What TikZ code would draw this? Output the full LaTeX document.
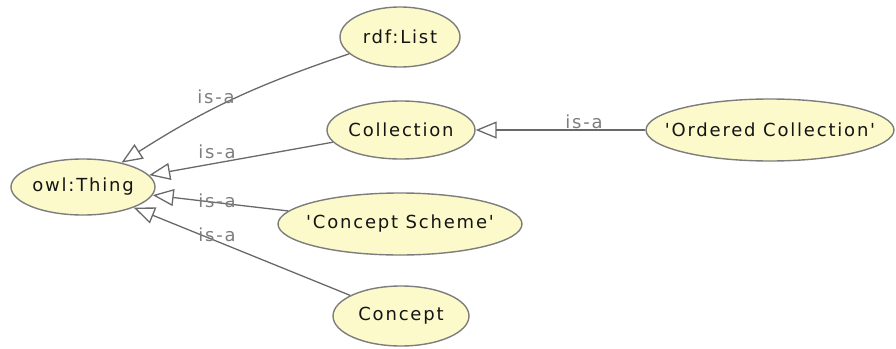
\documentclass[tikz,border=0pt]{standalone}
\usepackage{fontspec}
\newfontfamily\diagfont{DejaVu Sans}[LetterSpace=10]
\usetikzlibrary{shapes.geometric,arrows.meta}
\definecolor{clsfill}{RGB}{252,250,202}
\definecolor{clsborder}{RGB}{125,125,125}
\definecolor{edgeline}{RGB}{105,105,105}
\definecolor{edgetext}{RGB}{125,125,125}
\definecolor{clstext}{RGB}{20,20,20}
% zero-width text so that the ellipse size comes from the minimum sizes only
\newcommand{\clsname}[1]{\makebox[0pt]{#1}}
\begin{document}
\begin{tikzpicture}[x=1pt,y=-1pt,
  font=\diagfont\fontsize{18}{21}\selectfont,
  cls/.style={ellipse, draw=clsborder, line width=1.4pt, fill=clsfill,
    text=clstext, inner sep=0pt},
  isa/.style={draw=edgeline, line width=1.3pt,
    -{Triangle[open, length=21pt, width=17pt, line width=1.3pt]}},
  isalabel/.style={text=edgetext, inner sep=0pt}]
\useasboundingbox (0,0) rectangle (896,348);

% classes
\node[cls, minimum width=144pt, minimum height=56pt] (thing) at (83,187) {\clsname{owl:Thing}};
\node[cls, minimum width=120pt, minimum height=60pt] (list) at (400,37) {\clsname{rdf:List}};
\node[cls, minimum width=148pt, minimum height=58pt] (coll) at (401,130) {\clsname{Collection}};
\node[cls, minimum width=248pt, minimum height=62pt] (ocoll) at (770,130) {\clsname{'Ordered Collection'}};
\node[cls, minimum width=244pt, minimum height=62pt] (scheme) at (400,224) {\clsname{'Concept Scheme'}};
\node[cls, minimum width=136pt, minimum height=60pt] (concept) at (401,316) {\clsname{Concept}};

% subclass links
\draw[isa] (list) to[bend right=7] (thing);
\draw[isa] (coll) -- (thing);
\draw[isa] (scheme) -- (thing);
\draw[isa] (concept) -- (thing);
\draw[isa] (ocoll) -- (coll);

% link labels
\node[isalabel] (l1) at (216,97) {is-a};
\node[isalabel] (l2) at (217,152) {is-a};
\node[isalabel] (l3) at (217,201) {is-a};
\node[isalabel] (l4) at (217,235) {is-a};
\node[isalabel] (l5) at (584,122) {is-a};
\end{tikzpicture}
\end{document}
